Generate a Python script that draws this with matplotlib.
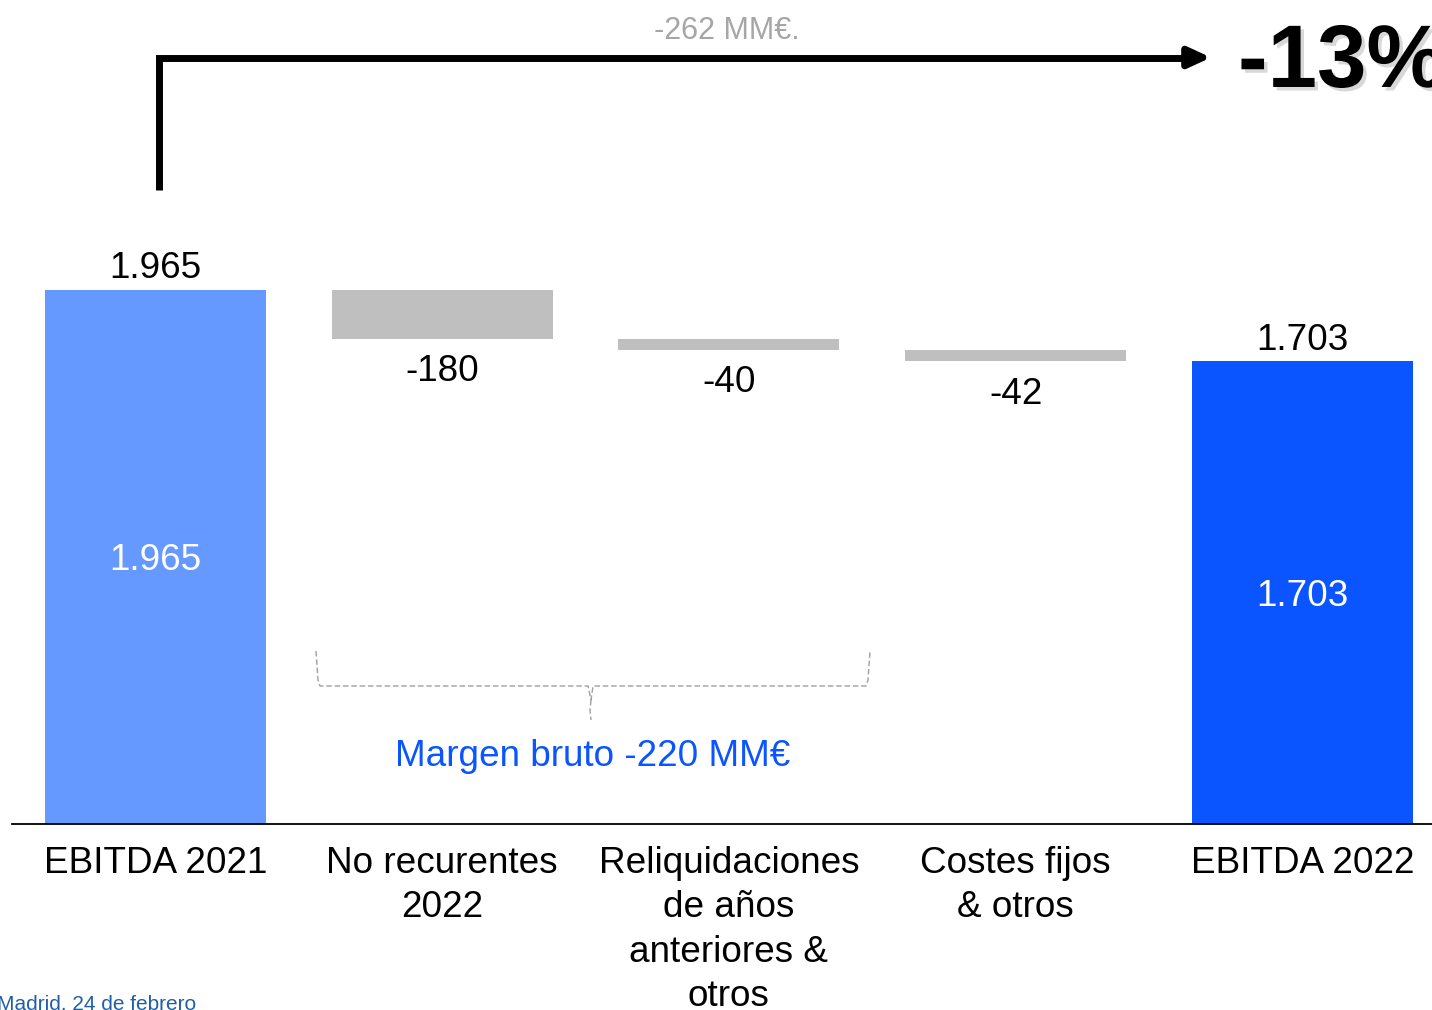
import matplotlib.pyplot as plt
import matplotlib.patheffects as pe
import numpy as np

plt.rcParams["font.family"] = ["Liberation Sans", "DejaVu Sans"]

# data (MM€)
categories = ["EBITDA 2021", "No recurentes\n2022", "Reliquidaciones\nde años\nanteriores &\notros",
              "Costes fijos\n& otros", "EBITDA 2022"]
start_total = 1965
deltas = [-180, -40, -42]
end_total = 1703
delta_labels = ["-180", "-40", "-42"]
total_labels = ["1.965", "1.703"]

LIGHT_BLUE = "#6699FF"
DARK_BLUE = "#0A55FF"
GREY = "#BFBFBF"
FS = 26.6

W, H = 1432, 1010
fig = plt.figure(figsize=(W / 100, H / 100), dpi=100)
ax = fig.add_axes([0, 0, 1, 1])

# px scale: baseline at 824 px from top, 1965 -> 534 px
px_per_unit = 534 / 1965
y_lo = -(H - 824) / px_per_unit
y_hi = 824 / px_per_unit
step = 286.7
x_lo = -155.5 / step
x_hi = (W - 155.5) / step
ax.set_xlim(x_lo, x_hi)
ax.set_ylim(y_lo, y_hi)
ax.axis("off")

x = np.arange(len(categories))
width = 221 / step

# totals
ax.bar(x[0], start_total, width=width, color=LIGHT_BLUE)
ax.bar(x[-1], end_total, width=width, color=DARK_BLUE)

# floating deltas
level = start_total
for i, d in enumerate(deltas):
    ax.bar(x[i + 1], -d, bottom=level + d, width=width, color=GREY)
    ax.text(x[i + 1], level + d - 33 / px_per_unit, delta_labels[i],
            ha="center", va="center", fontsize=FS, color="black")
    level += d

for xi, val, lab in [(x[0], start_total, total_labels[0]), (x[-1], end_total, total_labels[1])]:
    ax.text(xi, val + 21 / px_per_unit, lab, ha="center", va="center", fontsize=FS, color="black")
    ax.text(xi, val / 2 - 4 / px_per_unit, lab, ha="center", va="center", fontsize=FS, color="white")

ax.axhline(0, xmin=12 / W, xmax=1, color="black", lw=1.3)

for xi, cat in zip(x, categories):
    ax.text(xi, -22 / px_per_unit, cat, ha="center", va="top", fontsize=FS,
            linespacing=1.35, color="black")

# overlay in pixel coords for annotations
ov = fig.add_axes([0, 0, 1, 1], facecolor="none")
ov.set_xlim(0, W)
ov.set_ylim(H, 0)
ov.axis("off")

ov.plot([159, 159, 1192], [190, 57.5, 57.5], color="black", lw=5, solid_capstyle="butt",
        solid_joinstyle="miter")
ov.annotate("", xy=(1211, 57.5), xytext=(1185, 57.5),
            arrowprops=dict(arrowstyle="-|>,head_length=1.3,head_width=0.6", color="black",
                            lw=5, shrinkA=0, shrinkB=0))
ov.text(727, 31, "-262 MM€.", ha="center", va="center", fontsize=22, color="#A6A6A6")
ov.text(1238, 64, "-13%", ha="left", va="center", fontsize=64, fontweight="bold", color="black",
        path_effects=[pe.SimplePatchShadow(offset=(2.5, -2.5), shadow_rgbFace="#909090", alpha=0.35),
                      pe.Normal()])

# bracket
br = dict(color="#A0A0A0", lw=1, ls=(0, (4, 2)))
ov.plot([316, 318, 320, 588, 591, 593, 866, 868, 870], [651, 680, 686, 686, 700, 686, 686, 680, 651], **br)
ov.plot([591, 590, 591], [700, 710, 720], **br)
ov.text(593, 757, "Margen bruto -220 MM€", ha="center", va="center", fontsize=FS, color=DARK_BLUE)

ov.text(-3, 1004, "Madrid. 24 de febrero", ha="left", va="center", fontsize=15, color="#1F5FA8")

fig.savefig("out.png", dpi=100)
